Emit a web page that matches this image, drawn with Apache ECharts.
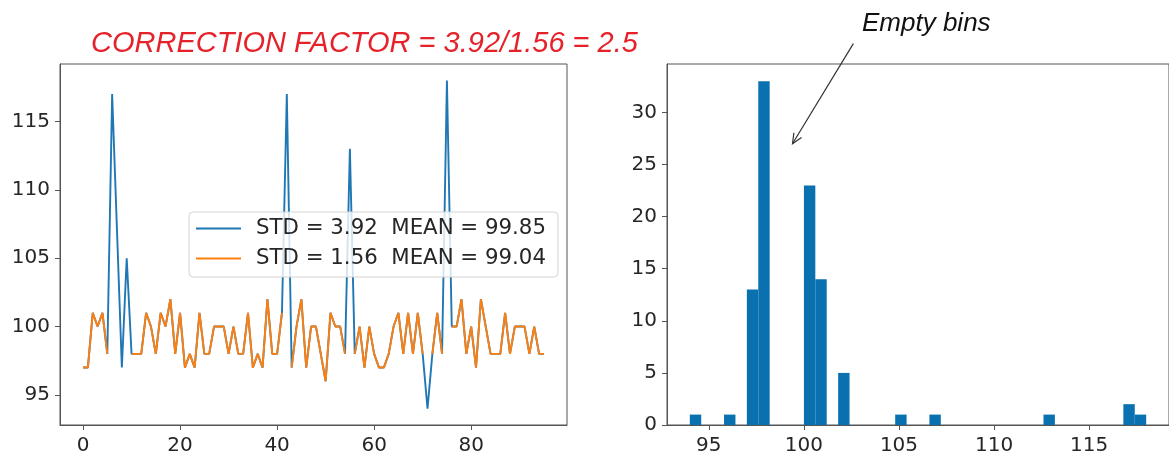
<!DOCTYPE html>
<html>
<head>
<meta charset="utf-8">
<script src="https://cdn.jsdelivr.net/npm/echarts@6/dist/echarts.min.js"></script>
<style>
html,body{margin:0;padding:0;background:#fff;}
#chart{width:1169px;height:456px;}
</style>
</head>
<body>
<div id="chart"></div>
<script>
// ---- data ----
const rawSeries = [97,97,101,100,101,98,117,107,97,105,
  98,98,98,101,100,98,101,100,102,98,
  101,97,98,97,101,98,98,100,100,100,
  98,100,98,98,101,97,98,97,102,98,
  98,101,117,97,100,102,97,100,100,98,
  96,101,100,100,98,113,98,100,97,100,
  98,97,97,98,100,101,98,101,98,101,
  98,94,98,101,98,118,100,100,102,98,
  100,97,102,100,98,98,98,101,98,100,
  100,100,98,100,98,98];
const cleanedSeries = [97,97,101,100,101,98,null,null,97,null,
  98,98,98,101,100,98,101,100,102,98,
  101,97,98,97,101,98,98,100,100,100,
  98,100,98,98,101,97,98,97,102,98,
  98,101,null,97,100,102,97,100,100,98,
  96,101,100,100,98,null,98,100,97,100,
  98,97,97,98,100,101,98,101,98,101,
  98,null,98,101,98,null,100,100,102,98,
  100,97,102,100,98,98,98,101,98,100,
  100,100,98,100,98,98];
const rawLabel = 'STD = 3.92  MEAN = 99.85';
const cleanedLabel = 'STD = 1.56  MEAN = 99.04';

const binLeft  = [94.0, 95.8, 97.0, 97.6, 100.0, 100.6, 101.8, 104.8, 106.6, 112.6, 116.8, 117.4];
const binRight = [94.6, 96.4, 97.6, 98.2, 100.6, 101.2, 102.4, 105.4, 107.2, 113.2, 117.4, 118.0];
const binCounts = [1, 1, 13, 33, 23, 14, 5, 1, 1, 1, 2, 1];

const leftXTicks = [0, 20, 40, 60, 80];
const leftYTicks = [95, 100, 105, 110, 115];
const rightXTicks = [95, 100, 105, 110, 115];
const rightYTicks = [0, 5, 10, 15, 20, 25, 30];

const titleText = 'CORRECTION FACTOR = 3.92/1.56 = 2.5';
const noteText = 'Empty bins';
const arrowFrom = [102.6, 36.6];
const arrowTo = [99.4, 27.0];

// ---- chart ----
const chart = echarts.init(document.getElementById('chart'), null, {renderer: 'canvas'});
const tickFont = {fontFamily: 'DejaVu Sans', fontSize: 20, color: '#262626'};
const frame = '#555';

function makeAxis(ticks, extra) {
  return Object.assign({
    type: 'value',
    splitLine: {show: false},
    axisLine: {show: true, onZero: false, lineStyle: {color: frame, width: 1}},
    axisTick: {show: true, inside: false, length: 5, lineStyle: {color: frame, width: 1}, customValues: ticks},
    axisLabel: Object.assign({customValues: ticks, margin: 10}, tickFont)
  }, extra);
}

const toPairs = arr => arr.map((v, i) => [i, v === null ? '-' : v]);

const option = {
  animation: false,
  backgroundColor: '#fff',
  title: [
    {text: titleText, left: 86, top: 24,
     textStyle: {fontFamily: 'Liberation Sans', fontStyle: 'italic', fontWeight: 'normal', fontSize: 29, color: '#e5222a'}},
    {text: noteText, left: 857, top: 6,
     textStyle: {fontFamily: 'Liberation Sans', fontStyle: 'italic', fontWeight: 'normal', fontSize: 26, color: '#111'}}
  ],
  grid: [
    {left: 60, top: 64, width: 507, height: 363, show: true, borderColor: frame, borderWidth: 1, backgroundColor: 'transparent'},
    {left: 667, top: 64, right: -4, height: 363, show: true, borderColor: frame, borderWidth: 1, backgroundColor: 'transparent'}
  ],
  xAxis: [
    makeAxis(leftXTicks, {gridIndex: 0, min: -4.75, max: 99.75, axisLabel: Object.assign({customValues: leftXTicks, margin: 11}, tickFont)}),
    makeAxis(rightXTicks, {gridIndex: 1, min: 92.8, max: 119.2, axisLabel: Object.assign({customValues: rightXTicks, margin: 11}, tickFont)})
  ],
  yAxis: [
    makeAxis(leftYTicks, {gridIndex: 0, min: 92.8, max: 119.2}),
    makeAxis(rightYTicks, {gridIndex: 1, min: 0, max: 34.65})
  ],
  legend: {
    orient: 'vertical',
    left: 189, top: 212,
    padding: [6, 12, 8, 7],
    itemGap: 9,
    itemWidth: 45, itemHeight: 2,
    icon: 'rect',
    backgroundColor: 'rgba(255,255,255,0.8)',
    borderColor: '#d4d4d4', borderWidth: 1, borderRadius: 4,
    textStyle: {fontFamily: 'DejaVu Sans', fontSize: 21.3, color: '#262626', padding: [0, 0, 0, 10]},
    data: [rawLabel, cleanedLabel]
  },
  series: [
    {name: rawLabel, type: 'line', xAxisIndex: 0, yAxisIndex: 0, data: toPairs(rawSeries),
     symbol: 'none', showSymbol: false, color: '#1f77b4', lineStyle: {width: 1.9, color: '#1f77b4'}, z: 2},
    {name: cleanedLabel, type: 'line', xAxisIndex: 0, yAxisIndex: 0, data: toPairs(cleanedSeries),
     symbol: 'none', showSymbol: false, connectNulls: false, color: '#ff7f0e', lineStyle: {width: 1.9, color: '#ff7f0e'}, z: 3},
    {name: 'hist', type: 'custom', xAxisIndex: 1, yAxisIndex: 1,
     data: binLeft.map((l, i) => [l, binRight[i], binCounts[i]]),
     encode: {x: [0, 1], y: 2},
     renderItem: function (params, api) {
       const p0 = api.coord([api.value(0), api.value(2)]);
       const p1 = api.coord([api.value(1), 0]);
       return {type: 'rect', shape: {x: p0[0], y: p0[1], width: p1[0] - p0[0], height: p1[1] - p0[1]},
               style: {fill: '#0a71b0'}};
     }}
  ]
};
chart.setOption(option);

// annotation arrow (data coords of the right chart)
const a = chart.convertToPixel({xAxisIndex: 1, yAxisIndex: 1}, arrowFrom);
const b = chart.convertToPixel({xAxisIndex: 1, yAxisIndex: 1}, arrowTo);
const ang = Math.atan2(b[1] - a[1], b[0] - a[0]);
const hl = 11, hw = 0.42;
const h1 = [b[0] - hl * Math.cos(ang - hw), b[1] - hl * Math.sin(ang - hw)];
const h2 = [b[0] - hl * Math.cos(ang + hw), b[1] - hl * Math.sin(ang + hw)];
chart.setOption({
  graphic: [
    {type: 'line', shape: {x1: a[0], y1: a[1], x2: b[0], y2: b[1]}, style: {stroke: '#333', lineWidth: 1.2}, z: 10},
    {type: 'polyline', shape: {points: [h1, b, h2]}, style: {stroke: '#333', lineWidth: 1.2, fill: null}, z: 10}
  ]
});
</script>
</body>
</html>
